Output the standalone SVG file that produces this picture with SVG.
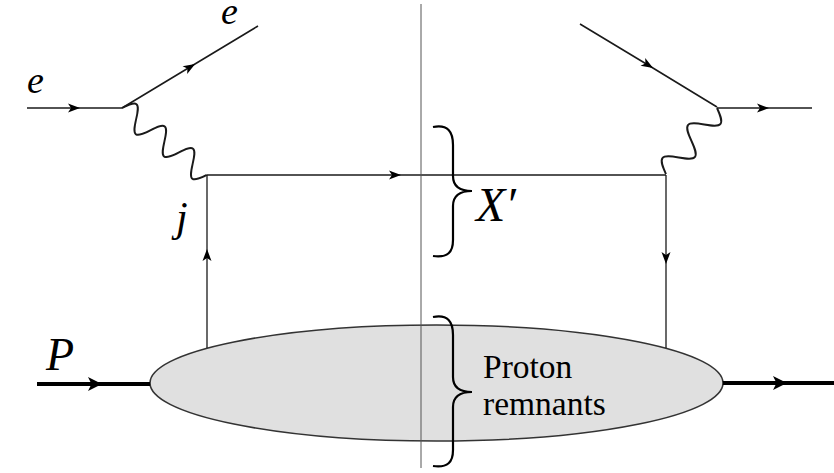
<svg xmlns="http://www.w3.org/2000/svg" width="834" height="473" viewBox="0 0 834 473">
<style>
.ln{fill:none;stroke:#1a1a1a;stroke-width:1.6}
.q{fill:none;stroke:#1a1a1a;stroke-width:1.3}
.ph{fill:none;stroke:#1a1a1a;stroke-width:1.9}
.thick{fill:none;stroke:#000;stroke-width:4}
.cut{fill:none;stroke:#555;stroke-width:1}
.brace{fill:none;stroke:#000;stroke-width:2.2}
</style>
<defs>
<marker id="a" markerUnits="userSpaceOnUse" markerWidth="14" markerHeight="12" viewBox="-7 -6 14 12" refX="0" refY="0" orient="auto"><path d="M6,0 L-6,-4.5 L-3,0 L-6,4.5 Z" fill="#000"/></marker>
<marker id="b" markerUnits="userSpaceOnUse" markerWidth="16" markerHeight="16" viewBox="-8 -8 16 16" refX="0" refY="0" orient="auto"><path d="M7,0 L-7,-7 L-3.5,0 L-7,7 Z" fill="#000"/></marker>
</defs>
<g id="proton-blob">
<ellipse cx="436.5" cy="383" rx="286.5" ry="58" fill="#e0e0e0" stroke="#333" stroke-width="1.6"/>
</g>
<g id="connectors">
<path class="ln" d="M27,108 L74,108 L122,108" marker-mid="url(#a)"/>
<path class="ln" d="M122,108 L190,67 L258,26" marker-mid="url(#a)"/>
<path class="ln" d="M580,24 L648,65 L717,107" marker-mid="url(#a)"/>
<path class="ln" d="M717,108 L763,108 L812,108" marker-mid="url(#a)"/>
<path class="ph" transform="translate(122,108) rotate(38.25)" d="M0,0 C3.01,-6.3 5.760,-12 9,-12 C12.24,-12 14.99,-6.3 18,0 C21.01,6.3 23.76,12 27,12 C30.24,12 32.99,6.3 36,0 C39.01,-6.3 41.76,-12 45,-12 C48.24,-12 50.99,-6.3 54,0 C57.01,6.3 59.76,12 63,12 C66.24,12 68.99,6.3 72,0 C75.01,-6.3 77.76,-12 81,-12 C84.24,-12 86.99,-6.3 90,0 C93.01,6.3 95.76,12 99,12 C102.24,12 104.99,6.3 108,0"/>
<path class="ph" transform="translate(717,108) rotate(127.7)" d="M0,0 C3.49,-6.56 6.67,-12.5 10.43,-12.5 C14.19,-12.5 17.37,-6.56 20.86,0 C24.35,6.56 27.53,12.5 31.29,12.5 C35.05,12.5 38.23,6.56 41.72,0 C45.21,-6.56 48.39,-12.5 52.15,-12.5 C55.91,-12.5 59.09,-6.56 62.58,0 C66.07,6.56 69.25,12.5 73.01,12.5 C76.77,12.5 79.950,6.56 83.44,0"/>
<path class="q" d="M207,175 L395,175 L666,175" marker-mid="url(#a)"/>
<path class="q" d="M207,348 L207,255 L207,175" marker-mid="url(#a)"/>
<path class="q" d="M666,175 L666,258 L666,348" marker-mid="url(#a)"/>
<path class="thick" d="M37,384 L95,384 L150,384" marker-mid="url(#b)"/>
<path class="thick" d="M723,383 L780,383 L834,383" marker-mid="url(#b)"/>
<path class="cut" d="M421,4 L421,468"/>
</g>
<g id="brace-x">
<path class="brace" d="M433,127 C448,124 453,132 453,145 L453,176 C453,186 460,191 472,191 C460,191 453,196 453,206 L453,240 C453,252 448,258 433,256"/>
<text x="476" y="221" font-family="Liberation Serif, DejaVu Serif, serif" font-style="italic" font-size="48" fill="#000">X′</text>
</g>
<g id="brace-remnants">
<path class="brace" d="M433,317 C448,314 453,322 453,335 L453,377 C453,387 460,392 472,392 C460,392 453,397 453,407 L453,450 C453,462 448,468 433,466"/>
<text x="483" y="378" font-family="Liberation Serif, DejaVu Serif, serif" font-size="33.5" fill="#000">Proton</text>
<text x="483" y="415" font-family="Liberation Serif, DejaVu Serif, serif" font-size="33.5" fill="#000">remnants</text>
</g>
<g id="labels" font-family="Liberation Serif, DejaVu Serif, serif" font-style="italic" fill="#000">
<text x="27" y="93" font-size="38">e</text>
<text x="221" y="24" font-size="38">e</text>
<text x="176" y="231" font-size="42">j</text>
<text x="46" y="370" font-size="46">P</text>
</g>
</svg>
